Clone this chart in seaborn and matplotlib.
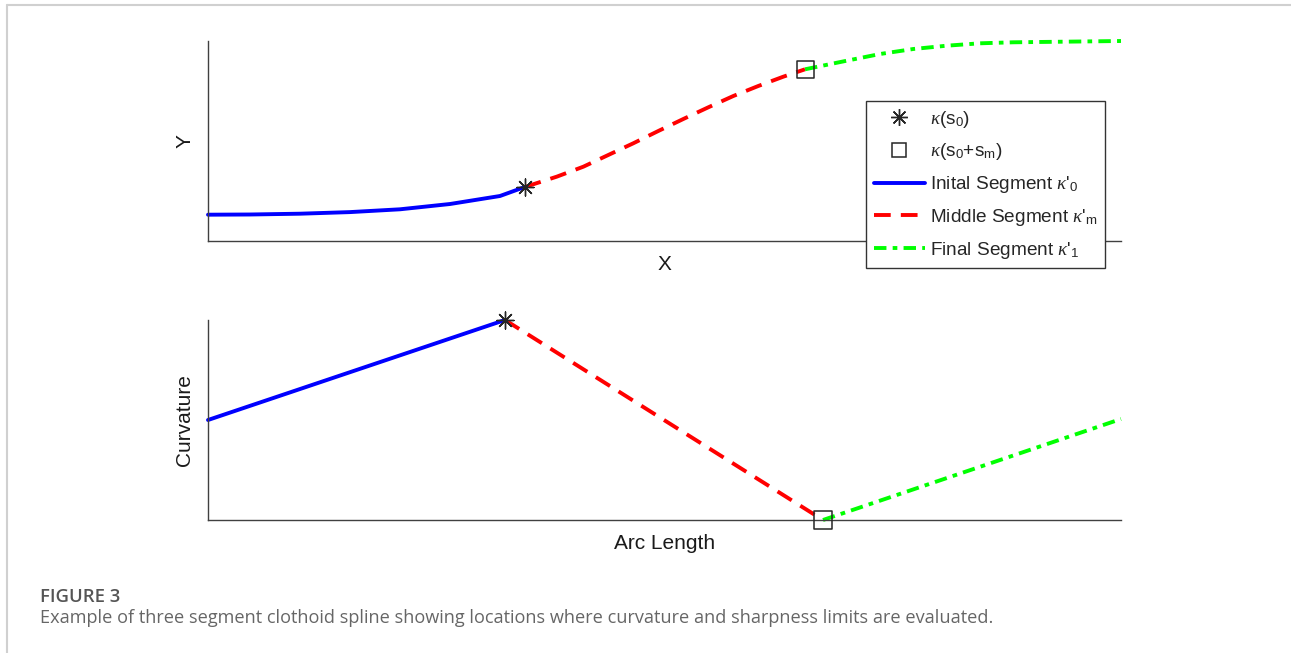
import matplotlib
matplotlib.use("Agg")
import matplotlib.pyplot as plt
from matplotlib.lines import Line2D
import seaborn as sns

# ---- data (arbitrary units) ----
# Top panel: path in X-Y plane
top_init_x = [0.0, 0.460, 1.008, 1.555, 2.103, 2.651, 3.198, 3.47]
top_init_y = [1.315, 1.325, 1.365, 1.445, 1.585, 1.85, 2.25, 2.70]
top_mid_x = [3.47, 3.819, 4.111, 4.384, 4.658, 4.932, 5.206, 5.480,
             5.754, 6.027, 6.301, 6.539]
top_mid_y = [2.70, 3.215, 3.715, 4.30, 4.885, 5.50, 6.10, 6.685,
             7.25, 7.75, 8.215, 8.585]
top_fin_x = [6.539, 6.996, 7.361, 7.725, 8.091, 8.456, 8.817, 9.365, 10.0]
top_fin_y = [8.585, 9.015, 9.35, 9.60, 9.765, 9.885, 9.935, 9.965, 10.0]

# Bottom panel: curvature vs arc length
bot_init_x = [0.0, 3.253]
bot_init_y = [5.0, 10.0]
bot_mid_x = [3.253, 6.736]
bot_mid_y = [10.0, 0.0]
bot_fin_x = [6.736, 10.0]
bot_fin_y = [0.0, 5.05]

legend_labels = [r"$\kappa$(s$_{\mathrm{0}}$)",
                 r"$\kappa$(s$_{\mathrm{0}}$+s$_{\mathrm{m}}$)",
                 r"Inital Segment $\kappa$'$_{\mathrm{0}}$",
                 r"Middle Segment $\kappa$'$_{\mathrm{m}}$",
                 r"Final Segment $\kappa$'$_{\mathrm{1}}$"]

# ---- style ----
sns.set_theme(style="white")
plt.rcParams["font.family"] = ["Liberation Sans", "DejaVu Sans"]
plt.rcParams["mathtext.fontset"] = "custom"
plt.rcParams["mathtext.rm"] = "Liberation Sans"
plt.rcParams["mathtext.it"] = "Liberation Serif:italic"
plt.rcParams["mathtext.bf"] = "Liberation Sans:bold"
plt.rcParams["mathtext.default"] = "it"

BLUE = "#0000ff"
RED = "#ff0000"
GREEN = "#00ff00"
MK = "#262626"
LW = 2.8
red_ls = (0, (4.3, 2.6))
green_ls = (0, (3.2, 1.6, 1.2, 1.6))

fig = plt.figure(figsize=(12.91, 6.53), dpi=100)
W, H = 1291, 653
ax1 = fig.add_axes([208 / W, 1 - 241 / H, 913 / W, 200 / H])
ax2 = fig.add_axes([208 / W, 1 - 520 / H, 913 / W, 200 / H])


def draw(ax, ix, iy, mx, my, fx, fy):
    sns.lineplot(x=ix, y=iy, ax=ax, color=BLUE, linewidth=LW, sort=False,
                 estimator=None, clip_on=False, solid_joinstyle="round")
    sns.lineplot(x=mx, y=my, ax=ax, color=RED, linewidth=LW, sort=False,
                 estimator=None, linestyle=red_ls, clip_on=False)
    sns.lineplot(x=fx, y=fy, ax=ax, color=GREEN, linewidth=LW, sort=False,
                 estimator=None, linestyle=green_ls, clip_on=False)
    sns.scatterplot(x=[ix[-1]], y=[iy[-1]], ax=ax, marker=(8, 2, 0), s=150,
                    color=MK, linewidth=1.0, zorder=5, clip_on=False)
    sns.scatterplot(x=[mx[-1]], y=[my[-1]], ax=ax, marker="s", s=150,
                    facecolor="none", edgecolor=MK, linewidth=1.1,
                    zorder=5, clip_on=False)
    ax.collections[-1].set_facecolor("none")
    ax.set_xlim(0, 10)
    ax.set_ylim(0, 10)
    ax.set_xticks([])
    ax.set_yticks([])
    for side in ["top", "right"]:
        ax.spines[side].set_visible(False)
    for side in ["left", "bottom"]:
        ax.spines[side].set_color("#404040")
        ax.spines[side].set_linewidth(1.0)
    ax.set_facecolor("none")


draw(ax1, top_init_x, top_init_y, top_mid_x, top_mid_y, top_fin_x, top_fin_y)
draw(ax2, bot_init_x, bot_init_y, bot_mid_x, bot_mid_y, bot_fin_x, bot_fin_y)

ax1.set_xlabel("X", fontsize=15, labelpad=10, color="#1a1a1a")
ax1.set_ylabel("Y", fontsize=15, labelpad=10, color="#1a1a1a")
ax2.set_xlabel("Arc Length", fontsize=15, labelpad=10, color="#1a1a1a")
ax2.set_ylabel("Curvature", fontsize=15, labelpad=10, color="#1a1a1a")

handles = [
    Line2D([], [], linestyle="none", marker=(8, 2, 0), markersize=12,
           color=MK, markeredgewidth=1.0),
    Line2D([], [], linestyle="none", marker="s", markersize=10,
           markerfacecolor="none", markeredgecolor=MK, markeredgewidth=1.1),
    Line2D([], [], color=BLUE, linewidth=LW),
    Line2D([], [], color=RED, linewidth=LW, linestyle=red_ls),
    Line2D([], [], color=GREEN, linewidth=LW, linestyle=green_ls),
]
leg = fig.legend(handles, legend_labels, loc="upper left",
                 bbox_to_anchor=(866 / W, 1 - 101 / H), fontsize=13.7,
                 frameon=True, fancybox=False, framealpha=1,
                 edgecolor="#333333", handlelength=2.7, handletextpad=0.27,
                 labelspacing=0.62, borderpad=0.4, borderaxespad=0)
leg.get_frame().set_linewidth(1.0)
leg.set_zorder(10)

# figure border (light gray, top and left)
fig.add_artist(Line2D([7 / W, 1], [1 - 5 / H, 1 - 5 / H], color="#d0d0d0",
                      linewidth=1.5, transform=fig.transFigure))
fig.add_artist(Line2D([7 / W, 7 / W], [0, 1 - 5 / H], color="#d0d0d0",
                      linewidth=1.5, transform=fig.transFigure))

# caption
fig.text(40 / W, 1 - 597 / H, "FIGURE 3", fontsize=13.3, color="#555555",
         family=["Open Sans", "DejaVu Sans"], fontweight="semibold",
         va="center", ha="left")
fig.text(40 / W, 1 - 618 / H,
         "Example of three segment clothoid spline showing locations where "
         "curvature and sharpness limits are evaluated.",
         fontsize=13.1, color="#666666", family=["Open Sans", "DejaVu Sans"],
         va="center", ha="left")

fig.savefig("out.png", dpi=100)
